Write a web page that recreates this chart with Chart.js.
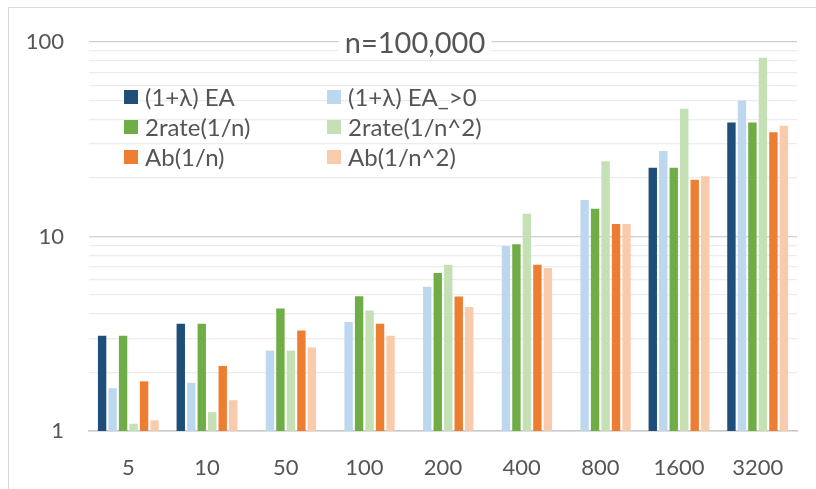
<!DOCTYPE html>
<html>
<head>
<meta charset="utf-8">
<script src="https://cdn.jsdelivr.net/npm/chart.js@4"></script>
<style>
  html, body { margin: 0; padding: 0; background: #fff; overflow: hidden; }
  #frame { position: absolute; left: 8px; top: 7px; width: 900px; height: 600px; border: 1px solid #d9d9d9; }
  #wrap { position: absolute; left: 0; top: 0; width: 816px; height: 489px; }
</style>
</head>
<body>
<div id="frame"></div>
<div id="wrap"><canvas id="chart"></canvas></div>
<script>
const title = 'n=100,000';
const categories = ['5', '10', '50', '100', '200', '400', '800', '1600', '3200'];

const eaPlain   = [3.09, 3.56, null, null, null, null, null, 22.6, 38.6];
const eaPos     = [1.66, 1.77, 2.59, 3.63, 5.52, 8.93, 15.4, 27.5, 50.1];
const rateN     = [3.09, 3.56, 4.27, 4.93, 6.49, 9.12, 13.9, 22.6, 38.6];
const rateN2    = [1.09, 1.25, 2.59, 4.17, 7.16, 13.1, 24.4, 45.4, 83.0];
const abN       = [1.80, 2.16, 3.29, 3.56, 4.92, 7.16, 11.6, 19.6, 34.4];
const abN2      = [1.135, 1.44, 2.69, 3.09, 4.34, 6.89, 11.6, 20.4, 37.1];

const decades = [1, 10, 100];
const minorSteps = [2, 3, 4, 5, 6, 7, 8, 9];

const textColor = '#555555';
const fontFamily = 'Lato, "Open Sans", sans-serif';

// Excel-like title (white box over the grid) and a two-column legend inside the plot
const overlay = {
    id: 'overlay',
    afterDraw(chart) {
        const ctx = chart.ctx;
        ctx.save();
        ctx.font = '29px ' + fontFamily;
        const tw = ctx.measureText(title).width;
        const cx = 415, cy = 44;
        ctx.fillStyle = '#fff';
        ctx.fillRect(cx - tw / 2 - 6, cy - 13, tw + 12, 28);
        ctx.fillStyle = textColor;
        ctx.textAlign = 'center';
        ctx.textBaseline = 'middle';
        ctx.fillText(title, cx, cy);

        ctx.font = '24px ' + fontFamily;
        ctx.textAlign = 'left';
        chart.data.datasets.forEach((ds, i) => {
            const col = i % 2, row = Math.floor(i / 2);
            const bx = col ? 327 : 124;
            const by = 97 + row * 30;
            ctx.fillStyle = ds.backgroundColor;
            ctx.fillRect(bx, by - 7, 14, 14);
            ctx.fillStyle = textColor;
            ctx.fillText(ds.label, bx + 21, by + 1);
        });
        ctx.restore();
    }
};

new Chart(document.getElementById('chart'), {
    type: 'bar',
    data: {
        labels: categories,
        datasets: [
            { label: '(1+λ) EA', data: eaPlain, backgroundColor: '#1f4e79' },
            { label: '(1+λ) EA_>0', data: eaPos, backgroundColor: '#bdd7ee' },
            { label: '2rate(1/n)', data: rateN, backgroundColor: '#70ad47' },
            { label: '2rate(1/n^2)', data: rateN2, backgroundColor: '#c5e0b4' },
            { label: 'Ab(1/n)', data: abN, backgroundColor: '#ed7d31' },
            { label: 'Ab(1/n^2)', data: abN2, backgroundColor: '#f8cbad' }
        ]
    },
    options: {
        responsive: true,
        maintainAspectRatio: false,
        animation: false,
        layout: { padding: { left: 0, top: 42, right: 19, bottom: 0 } },
        datasets: { bar: { categoryPercentage: 0.8, barPercentage: 0.8 } },
        plugins: {
            legend: { display: false },
            title: { display: false },
            tooltip: { enabled: false }
        },
        scales: {
            x: {
                grid: { display: false },
                border: { display: true, color: '#c8c8c8', width: 1.5 },
                ticks: { color: textColor, font: { family: fontFamily, size: 22 }, padding: 16 },
                afterFit(scale) { scale.height = 58; }
            },
            y: {
                type: 'logarithmic',
                min: 1,
                max: 100,
                border: { display: false },
                grid: {
                    drawTicks: false,
                    color: c => decades.includes(c.tick.value) ? '#d0d0d0' : '#ececec',
                    lineWidth: 1.2
                },
                ticks: {
                    autoSkip: false,
                    padding: 25,
                    color: textColor,
                    font: { family: fontFamily, size: 22 },
                    callback: v => decades.includes(v) ? String(v) : ''
                },
                afterBuildTicks(scale) {
                    const ticks = [];
                    decades.forEach(d => {
                        ticks.push({ value: d });
                        if (d < 100) minorSteps.forEach(m => ticks.push({ value: d * m }));
                    });
                    scale.ticks = ticks;
                },
                afterFit(scale) { scale.width = 89; }
            }
        }
    },
    plugins: [overlay]
});
</script>
</body>
</html>
